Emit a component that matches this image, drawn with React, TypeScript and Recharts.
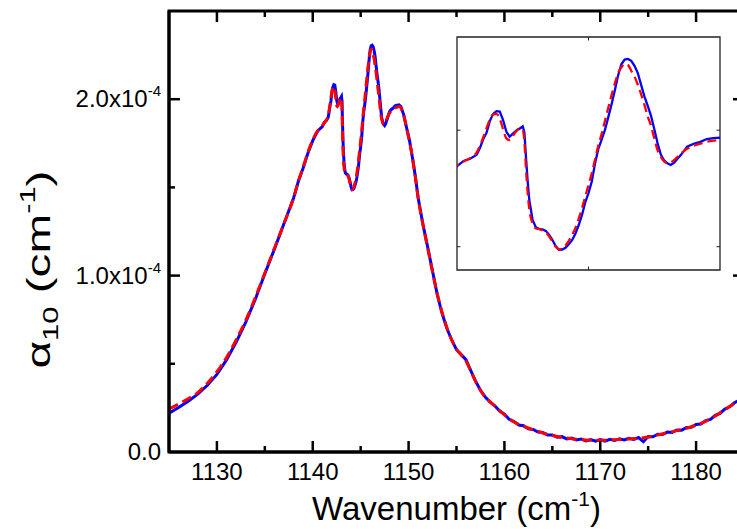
import { LineChart, Line, XAxis, YAxis, ReferenceLine, ReferenceArea } from "recharts";

const FONT = "'Liberation Sans', Arial, Helvetica, sans-serif";

// wavenumber grid, cm^-1 (denser through the band centre)
const wavenumber = [
  1125, 1126, 1127, 1128, 1129, 1130, 1131, 1132, 1133, 1134, 1135, 1136, 1137, 1138,
  1138.5, 1139, 1139.5, 1140, 1140.5,
  1140.8, 1141.0, 1141.2, 1141.4, 1141.6, 1141.7, 1141.8, 1141.9, 1142.0, 1142.1,
  1142.2, 1142.3, 1142.4, 1142.5, 1142.6, 1142.7, 1142.8, 1142.9, 1143.0, 1143.05,
  1143.1, 1143.15, 1143.2, 1143.3, 1143.4, 1143.5, 1143.6, 1143.7, 1143.8, 1143.9,
  1144.0, 1144.1, 1144.2, 1144.3, 1144.4, 1144.5, 1144.6, 1144.7, 1144.8, 1144.9,
  1145.0, 1145.1, 1145.2, 1145.3, 1145.4, 1145.5, 1145.6, 1145.7, 1145.8, 1145.9,
  1146.0, 1146.1, 1146.2, 1146.3, 1146.4, 1146.5, 1146.6, 1146.7, 1146.8, 1146.9,
  1147.0, 1147.1, 1147.2, 1147.3, 1147.4, 1147.5, 1147.6, 1147.7, 1147.8, 1147.9,
  1148.0, 1148.2, 1148.4, 1148.6, 1148.8, 1149.0, 1149.2,
  1149.5, 1149.8, 1150.1, 1150.4, 1150.7, 1151.0, 1151.5, 1152.0, 1152.5, 1153.0,
  1153.5, 1154.0, 1154.5, 1155.0, 1155.5, 1156.0, 1156.5, 1157.0, 1157.5,
  1158, 1158.5, 1159, 1159.5, 1160, 1160.5, 1161, 1161.5, 1162, 1162.5, 1163, 1163.5,
  1164, 1164.5, 1165, 1165.5, 1166, 1166.5, 1167, 1167.5, 1168, 1168.5, 1169, 1169.5,
  1170, 1170.5, 1171, 1171.5, 1172, 1172.5, 1173, 1173.5, 1174, 1174.5, 1175, 1175.5,
  1176, 1176.5, 1177, 1177.5, 1178, 1178.5, 1179, 1179.5, 1180, 1180.5, 1181, 1181.5,
  1182, 1182.5, 1183, 1183.5, 1184, 1184.5, 1185,
];

// alpha_10, measured, in units of 1e-4 cm^-1
const measured = [
  0.22, 0.252, 0.288, 0.328, 0.378, 0.44, 0.522, 0.622, 0.735, 0.865, 1.01, 1.15, 1.295, 1.44,
  1.535, 1.61, 1.695, 1.765, 1.818,
  1.835, 1.845, 1.868, 1.878, 1.895, 1.925, 1.962, 1.99, 2.04, 2.07,
  2.082, 2.08, 2.044, 1.994, 1.972, 1.985, 1.998, 2.006, 2.016, 1.99,
  1.88, 1.78, 1.7, 1.615, 1.583, 1.576, 1.574, 1.568, 1.552, 1.53,
  1.503, 1.487, 1.488, 1.495, 1.51, 1.528, 1.555, 1.592, 1.635, 1.69,
  1.73, 1.78, 1.858, 1.92, 1.96, 2.001, 2.055, 2.11, 2.17, 2.235,
  2.283, 2.303, 2.306, 2.298, 2.276, 2.245, 2.195, 2.145, 2.105, 2.063,
  2.005, 1.945, 1.895, 1.87, 1.858, 1.851, 1.86, 1.876, 1.892, 1.91,
  1.929, 1.942, 1.95, 1.962, 1.966, 1.968, 1.958,
  1.91, 1.835, 1.765, 1.67, 1.565, 1.44, 1.29, 1.16, 1.025, 0.89,
  0.785, 0.7, 0.635, 0.58, 0.552, 0.522, 0.46, 0.4, 0.35,
  0.312, 0.283, 0.262, 0.232, 0.214, 0.185, 0.173, 0.153, 0.149, 0.131, 0.128, 0.113,
  0.111, 0.096, 0.097, 0.084, 0.087, 0.074, 0.079, 0.068, 0.074, 0.063, 0.071, 0.061,
  0.07, 0.062, 0.072, 0.065, 0.075, 0.068, 0.078, 0.071, 0.082, 0.058, 0.088, 0.086,
  0.101, 0.099, 0.113, 0.111, 0.125, 0.124, 0.139, 0.14, 0.156, 0.159, 0.178, 0.185,
  0.208, 0.219, 0.243, 0.256, 0.279, 0.294, 0.318,
];

// alpha_10, fitted line shape, same units
const fitted = [
  0.245, 0.272, 0.302, 0.337, 0.39, 0.455, 0.535, 0.635, 0.745, 0.875, 1.015, 1.155, 1.295, 1.44,
  1.535, 1.615, 1.7, 1.77, 1.82,
  1.836, 1.85, 1.866, 1.88, 1.905, 1.935, 1.97, 2.01, 2.045, 2.068,
  2.07, 2.05, 2.005, 1.965, 1.958, 1.975, 1.995, 2.008, 2.0, 1.95,
  1.83, 1.73, 1.66, 1.6, 1.578, 1.575, 1.57, 1.562, 1.545, 1.522,
  1.5, 1.488, 1.492, 1.505, 1.525, 1.55, 1.58, 1.62, 1.665, 1.715,
  1.765, 1.815, 1.875, 1.935, 1.985, 2.04, 2.095, 2.15, 2.2, 2.245,
  2.27, 2.285, 2.28, 2.255, 2.23, 2.195, 2.155, 2.11, 2.06, 2.02,
  1.965, 1.915, 1.885, 1.866, 1.858, 1.862, 1.872, 1.885, 1.898, 1.91,
  1.92, 1.933, 1.942, 1.95, 1.955, 1.958, 1.95,
  1.905, 1.835, 1.76, 1.67, 1.562, 1.44, 1.29, 1.155, 1.02, 0.895,
  0.79, 0.705, 0.635, 0.583, 0.55, 0.515, 0.458, 0.4, 0.35,
  0.31, 0.285, 0.26, 0.235, 0.21, 0.188, 0.17, 0.157, 0.146, 0.136, 0.125, 0.117,
  0.108, 0.1, 0.094, 0.088, 0.083, 0.079, 0.075, 0.072, 0.07, 0.068, 0.067, 0.066,
  0.066, 0.067, 0.068, 0.07, 0.071, 0.073, 0.074, 0.076, 0.078, 0.081, 0.085, 0.09,
  0.097, 0.103, 0.109, 0.115, 0.121, 0.128, 0.135, 0.143, 0.152, 0.162, 0.174, 0.188,
  0.204, 0.222, 0.24, 0.258, 0.276, 0.296, 0.315,
];

const xMajorTicks = [1130, 1140, 1150, 1160, 1170, 1180];
const xMinorTicks = [1135, 1145, 1155, 1165, 1175];
const yMajorTicks = [0, 1, 2];
const yMinorTicks = [0.5, 1.5];
const insetXTicks = [1145];
const insetYTicks = [1.5, 2];

const spectrum = wavenumber.map((x, i) => ({ x, measured: measured[i], fitted: fitted[i] }));
const insetSpectrum = spectrum.filter((d) => d.x >= 1140.7 && d.x <= 1149.3);

// main plot frame
const X_MIN = 1125;
const X_MAX = 1185;
const Y_MIN = 0;
const Y_MAX = 2.5;
const CHART_W = 770;
const CHART_H = 529;
const MARGIN = { top: 11, right: 26, bottom: 77, left: 169 };
const PLOT_W = CHART_W - MARGIN.left - MARGIN.right;
const PLOT_H = CHART_H - MARGIN.top - MARGIN.bottom;
const MAJOR = 11;
const MINOR = 6;

// inset frame
const IX_MIN = 1141;
const IX_MAX = 1149;
const IY_MIN = 1.4;
const IY_MAX = 2.4;
const INSET_W = 263;
const INSET_H = 233;
const INSET_TICK = 3.5;

type Pt = { x: number; y: number };
type Seg = [Pt, Pt];
type Box = { x0: number; x1: number; y0: number; y1: number; w: number; h: number };

// inward tick marks on all four sides, lengths given in pixels
function frameTicks(xs: number[], ys: number[], len: number, box: Box): Seg[] {
  const dx = (len * (box.x1 - box.x0)) / box.w;
  const dy = (len * (box.y1 - box.y0)) / box.h;
  const segs: Seg[] = [];
  xs.forEach((v) => {
    segs.push([{ x: v, y: box.y0 }, { x: v, y: box.y0 + dy }]);
    segs.push([{ x: v, y: box.y1 }, { x: v, y: box.y1 - dy }]);
  });
  ys.forEach((v) => {
    segs.push([{ x: box.x0, y: v }, { x: box.x0 + dx, y: v }]);
    segs.push([{ x: box.x1, y: v }, { x: box.x1 - dx, y: v }]);
  });
  return segs;
}

const mainBox: Box = { x0: X_MIN, x1: X_MAX, y0: Y_MIN, y1: Y_MAX, w: PLOT_W, h: PLOT_H };
const insetBox: Box = { x0: IX_MIN, x1: IX_MAX, y0: IY_MIN, y1: IY_MAX, w: INSET_W, h: INSET_H };
const mainTicks = [
  ...frameTicks(xMajorTicks, yMajorTicks.filter((v) => v > Y_MIN), MAJOR, mainBox),
  ...frameTicks(xMinorTicks, yMinorTicks, MINOR, mainBox),
];
const insetTicks = frameTicks(insetXTicks, insetYTicks, INSET_TICK, insetBox);

type TickProps = { x?: number; y?: number; payload?: { value: number } };

const renderBottomLabel = ({ x = 0, y = 0, payload }: TickProps) => (
  <text x={x} y={y + 28} textAnchor="middle" fontSize={24} fontFamily={FONT} fill="#000">
    {payload?.value}
  </text>
);

const renderLeftLabel = ({ x = 0, y = 0, payload }: TickProps) => {
  const v = payload?.value ?? 0;
  return (
    <text x={x - 8} y={y + 8} textAnchor="end" fontSize={24} fontFamily={FONT} fill="#000">
      {v === 0 ? (
        "0.0"
      ) : (
        <>
          <tspan>{v.toFixed(1)}x10</tspan>
          <tspan fontSize={15} dy={-11}>-4</tspan>
        </>
      )}
    </text>
  );
};

// axis titles
const xTitleX = MARGIN.left + PLOT_W / 2;
const xTitleY = MARGIN.top + PLOT_H + 68;
const yTitleX = 50;
const yTitleY = MARGIN.top + PLOT_H / 2 + 38;

const AxisTitles = () => (
  <svg width={737} height={529} style={{ position: "absolute", left: 0, top: 0, pointerEvents: "none" }}>
    <text x={xTitleX} y={xTitleY} textAnchor="middle" fontSize={33} fontFamily={FONT} fill="#000">
      Wavenumber (cm
      <tspan fontSize={21} dy={-14}>-1</tspan>
      <tspan dy={14}>)</tspan>
    </text>
    <text
      transform={`rotate(-90 ${yTitleX} ${yTitleY})`}
      x={yTitleX}
      y={yTitleY}
      textAnchor="middle"
      fontSize={34}
      fontFamily={FONT}
      fill="#000"
      textLength={198}
      lengthAdjust="spacingAndGlyphs"
    >
      α<tspan fontSize={22} dy={8}>10</tspan>
      <tspan dy={-8}> (cm</tspan>
      <tspan fontSize={22} dy={-15}>-1</tspan>
      <tspan dy={15}>)</tspan>
    </text>
  </svg>
);

const frame = { stroke: "#000", strokeWidth: 3 };
const layer = { position: "absolute" as const, left: 0, top: 0 };

export default function App() {
  return (
    <div style={{ position: "absolute", left: 0, top: 0, width: 737, height: 529, overflow: "hidden", background: "#fff" }}>
      {/* data and tick labels */}
      <div style={layer}>
        <LineChart width={CHART_W} height={CHART_H} data={spectrum} margin={{ top: MARGIN.top, right: MARGIN.right, bottom: 0, left: 0 }}>
          <XAxis
            xAxisId="b"
            dataKey="x"
            type="number"
            domain={[X_MIN, X_MAX]}
            ticks={xMajorTicks}
            interval={0}
            height={MARGIN.bottom}
            tickSize={0}
            tickMargin={0}
            tickLine={false}
            axisLine={frame}
            tick={renderBottomLabel}
          />
          <YAxis
            yAxisId="l"
            type="number"
            domain={[Y_MIN, Y_MAX]}
            ticks={yMajorTicks}
            interval={0}
            width={MARGIN.left}
            tickSize={0}
            tickMargin={0}
            tickLine={false}
            axisLine={frame}
            tick={renderLeftLabel}
          />
          <Line
            xAxisId="b"
            yAxisId="l"
            dataKey="measured"
            stroke="#0000ff"
            strokeWidth={3}
            dot={false}
            type="linear"
            isAnimationActive={false}
          />
          <Line
            xAxisId="b"
            yAxisId="l"
            dataKey="fitted"
            stroke="#ff0000"
            strokeWidth={3}
            strokeDasharray="10 5"
            dot={false}
            type="monotone"
            isAnimationActive={false}
          />
        </LineChart>
      </div>

      {/* frame and inward ticks, on a layer built like the inset, same scales as the main plot */}
      <div style={{ ...layer, pointerEvents: "none" }}>
        <LineChart width={CHART_W} height={CHART_H} data={spectrum} margin={MARGIN}>
          <XAxis xAxisId="fx" dataKey="x" type="number" domain={[X_MIN, X_MAX]} hide allowDataOverflow />
          <YAxis yAxisId="fy" type="number" domain={[Y_MIN, Y_MAX]} hide allowDataOverflow />
          <ReferenceArea
            xAxisId="fx"
            yAxisId="fy"
            x1={X_MIN}
            x2={X_MAX}
            y1={Y_MIN}
            y2={Y_MAX}
            fill="#fff"
            fillOpacity={0}
            stroke="#000"
            strokeWidth={3}
            ifOverflow="visible"
          />
          {mainTicks.map((seg, i) => (
            <ReferenceLine key={`t${i}`} xAxisId="fx" yAxisId="fy" segment={seg} stroke="#000" strokeWidth={2.5}
              ifOverflow="visible" />
          ))}
          <Line xAxisId="fx" yAxisId="fy" dataKey="measured" stroke="#0000ff" strokeOpacity={0} strokeWidth={1}
            dot={false} type="linear" isAnimationActive={false} />
        </LineChart>
      </div>

      <AxisTitles />

      <div style={{ position: "absolute", left: 455, top: 35 }}>
        <LineChart width={267} height={237} data={insetSpectrum} margin={{ top: 2, right: 2, bottom: 2, left: 2 }}>
          <XAxis xAxisId="ix" dataKey="x" type="number" domain={[IX_MIN, IX_MAX]} hide allowDataOverflow />
          <YAxis yAxisId="iy" type="number" domain={[IY_MIN, IY_MAX]} hide allowDataOverflow />
          <ReferenceArea
            xAxisId="ix"
            yAxisId="iy"
            x1={IX_MIN}
            x2={IX_MAX}
            y1={IY_MIN}
            y2={IY_MAX}
            fill="#fff"
            fillOpacity={1}
            stroke="#222"
            strokeWidth={1.3}
            ifOverflow="visible"
          />
          {insetTicks.map((seg, i) => (
            <ReferenceLine key={`it${i}`} xAxisId="ix" yAxisId="iy" segment={seg} stroke="#222" strokeWidth={1}
              ifOverflow="visible" />
          ))}
          <Line xAxisId="ix" yAxisId="iy" dataKey="measured" stroke="#0000ff" strokeWidth={2.3} dot={false}
            type="linear" isAnimationActive={false} />
          <Line xAxisId="ix" yAxisId="iy" dataKey="fitted" stroke="#ff0000" strokeWidth={2.3} strokeDasharray="9 5"
            dot={false} type="monotone" isAnimationActive={false} />
        </LineChart>
      </div>
    </div>
  );
}
